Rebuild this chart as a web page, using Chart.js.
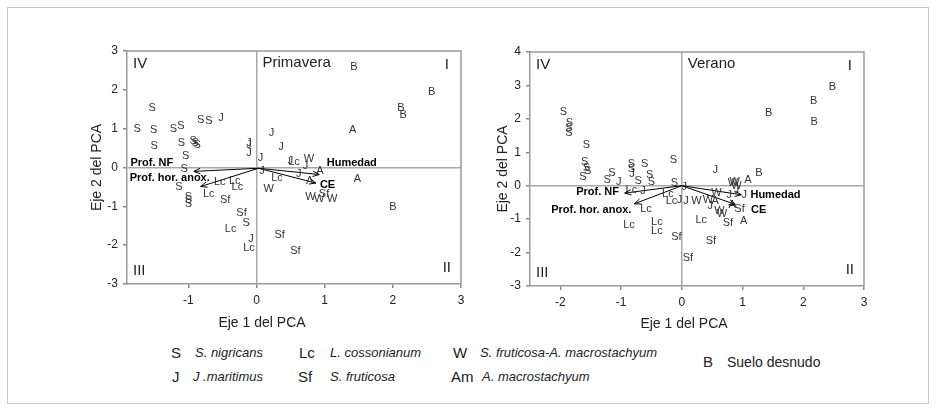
<!DOCTYPE html>
<html>
<head>
<meta charset="utf-8">
<script src="https://cdn.jsdelivr.net/npm/chart.js@4/dist/chart.umd.min.js"></script>
<style>
  body { margin: 0; background: #fff; overflow: hidden; width: 936px; height: 411px; position: relative;
         font-family: "Liberation Sans", Arial, Helvetica, sans-serif; color: #222; }
  #frame { position: absolute; left: 7px; top: 7px; width: 920px; height: 395px; border: 1px solid #c8c8c8; }
  #leftBox  { position: absolute; left: 0;     top: 0; width: 470px; height: 340px; }
  #rightBox { position: absolute; left: 470px; top: 0; width: 460px; height: 340px; }
  .lg { position: absolute; height: 18px; line-height: 18px; white-space: nowrap; }
  .sym { font-size: 15px; }
  .sp  { font-size: 13px; font-style: italic; }
</style>
</head>
<body>
<div id="frame"></div>
<div id="leftBox"><canvas id="primavera" width="470" height="340"></canvas></div>
<div id="rightBox"><canvas id="verano" width="460" height="340"></canvas></div>

<!-- legend -->
<div class="lg sym" style="left:171px;top:344px">S</div>
<div class="lg sp"  style="left:195px;top:344px">S. nigricans</div>
<div class="lg sym" style="left:299px;top:344px">Lc</div>
<div class="lg sp"  style="left:330px;top:344px">L. cossonianum</div>
<div class="lg sym" style="left:453px;top:344px">W</div>
<div class="lg sp"  style="left:480px;top:344px">S. fruticosa-A. macrostachyum</div>
<div class="lg sym" style="left:172px;top:368px">J</div>
<div class="lg sp"  style="left:193px;top:368px">J .maritimus</div>
<div class="lg sym" style="left:298px;top:368px">Sf</div>
<div class="lg sp"  style="left:330px;top:368px">S. fruticosa</div>
<div class="lg sym" style="left:451px;top:368px">Am</div>
<div class="lg sp"  style="left:482px;top:368px">A. macrostachyum</div>
<div class="lg sym" style="left:703px;top:353px">B</div>
<div class="lg" style="left:727px;top:353px;font-size:14px">Suelo desnudo</div>

<script>
// ---- tick labels ----
const primXTicks = [-1, 0, 1, 2, 3];
const primYTicks = [-3, -2, -1, 0, 1, 2, 3];
const verXTicks  = [-2, -1, 0, 1, 2, 3];
const verYTicks  = [-3, -2, -1, 0, 1, 2, 3, 4];

// ---- Primavera scores (Eje 1, Eje 2) ----
const primS  = [[-1.53,1.54],[-1.75,0.99],[-1.51,0.97],[-1.5,0.55],[-1.22,0.98],[-1.11,1.06],[-0.82,1.23],[-0.70,1.21],
                [-1.10,0.62],[-0.93,0.68],[-0.90,0.64],[-0.87,0.57],[-1.04,0.30],[-1.06,-0.05],[-1.14,-0.49],
                [-1.0,-0.75],[-1.0,-0.84],[-1.0,-0.94],[-0.15,-1.43]];
const primJ  = [[-0.52,1.28],[-0.11,0.63],[-0.11,0.59],[-0.11,0.38],[0.22,0.88],[0.36,0.54],[0.06,0.25],[0.08,-0.08],
                [0.50,0.16],[0.72,0.05],[0.62,-0.17],[-0.08,-1.84]];
const primLc = [[-0.70,-0.68],[-0.54,-0.38],[-0.32,-0.34],[-0.28,-0.51],[0.30,-0.27],[0.55,0.14],[-0.38,-1.58],[-0.11,-2.08]];
const primSf = [[-0.46,-0.84],[-0.22,-1.18],[0.34,-1.73],[0.57,-2.14],[0.99,-0.68]];
const primW  = [[0.18,-0.55],[0.77,0.22],[0.79,-0.75],[0.92,-0.81],[1.11,-0.82]];
const primA  = [[0.93,-0.08],[0.78,-0.35],[1.41,0.97],[1.48,-0.29]];
const primB  = [[1.43,2.58],[2.57,1.94],[2.12,1.54],[2.15,1.36],[2.0,-1.02]];

// ---- Verano scores ----
const verS  = [[-1.95,2.21],[-1.85,1.88],[-1.86,1.74],[-1.86,1.59],[-1.57,1.21],[-1.6,0.71],[-1.57,0.54],[-1.55,0.44],
               [-1.63,0.26],[-1.15,0.38],[-1.23,0.16],[-0.83,0.66],[-0.83,0.50],[-0.61,0.66],[-0.72,0.13],
               [-0.53,0.31],[-0.5,0.11],[-0.14,0.78],[-0.12,0.08]];
const verJ  = [[-1.04,0.11],[-0.82,0.36],[-0.64,-0.17],[0.04,-0.04],[0.07,-0.45],[-0.04,-0.44],[0.55,0.46],
               [0.47,-0.62],[0.78,-0.27],[1.03,-0.28],[0.9,-0.14]];
const verLc = [[-0.83,-0.12],[-0.23,-0.26],[-0.17,-0.46],[-0.59,-0.69],[-0.87,-1.16],[-0.41,-1.09],[-0.41,-1.34],[0.32,-1.03]];
const verSf = [[-0.09,-1.52],[0.10,-2.16],[0.48,-1.64],[0.76,-1.10],[0.95,-0.70]];
const verW  = [[0.24,-0.46],[0.43,-0.42],[0.57,-0.22],[0.62,-0.76],[0.66,-0.84],[0.84,0.08],[0.90,0.0],[0.87,0.12]];
const verA  = [[0.55,-0.47],[0.83,-0.57],[1.02,-1.04],[1.09,0.16]];
const verB  = [[1.27,0.38],[1.43,2.18],[2.17,2.53],[2.48,2.94],[2.18,1.91]];

// ---- environmental vectors: name, origin, end, label anchor ----
const vecNames   = ['Prof. NF', 'Prof. hor. anox.', 'Humedad', 'CE'];
const primOrigin = [0.03, -0.02];
const primVecEnd = [[-0.92,-0.10],[-0.82,-0.49],[0.92,-0.18],[0.87,-0.40]];
const primVecLab = [[-1.85,0.11],[-1.86,-0.27],[1.03,0.12],[0.93,-0.46]];
const verOrigin  = [0, 0];
const verVecEnd  = [[-0.94,-0.22],[-0.78,-0.54],[0.98,-0.27],[0.88,-0.56]];
const verVecLab  = [[-1.74,-0.19],[-2.15,-0.72],[1.13,-0.29],[1.14,-0.74]];

const FONT = '"Liberation Sans", Arial, Helvetica, sans-serif';

const toPts = arr => arr.map(([x, y]) => ({ x, y }));

// draws letters, arrowheads, vector labels, frame and annotations
const decorPlugin = {
  id: 'decor',
  beforeDatasetsDraw(chart, args, opts) {
    const { ctx, chartArea: a } = chart;
    ctx.save();
    ctx.strokeStyle = '#9a9a9a';
    ctx.lineWidth = 1.5;
    ctx.beginPath();
    ctx.moveTo(a.left, a.top); ctx.lineTo(a.right, a.top); ctx.lineTo(a.right, a.bottom);
    ctx.stroke();
    ctx.restore();
  },
  afterDatasetsDraw(chart, args, opts) {
    const { ctx, chartArea: a, scales } = chart;
    ctx.save();
    chart.data.datasets.forEach((ds, i) => {
      const meta = chart.getDatasetMeta(i);
      if (ds.letter) {
        ctx.font = '11px ' + FONT;
        ctx.fillStyle = '#333';
        ctx.textAlign = 'center';
        ctx.textBaseline = 'middle';
        meta.data.forEach(pt => ctx.fillText(ds.letter, pt.x, pt.y));
      }
      if (ds.arrow) {
        const p0 = meta.data[0], p1 = meta.data[1];
        const ang = Math.atan2(p1.y - p0.y, p1.x - p0.x);
        const L = 7, w = 0.4;
        ctx.strokeStyle = '#000';
        ctx.lineWidth = 1;
        ctx.beginPath();
        ctx.moveTo(p1.x - L * Math.cos(ang - w), p1.y - L * Math.sin(ang - w));
        ctx.lineTo(p1.x, p1.y);
        ctx.lineTo(p1.x - L * Math.cos(ang + w), p1.y - L * Math.sin(ang + w));
        ctx.stroke();
        ctx.font = 'bold 11px ' + FONT;
        ctx.fillStyle = '#000';
        ctx.textAlign = 'left';
        ctx.textBaseline = 'middle';
        ctx.fillText(ds.label, scales.x.getPixelForValue(ds.labelAt[0]), scales.y.getPixelForValue(ds.labelAt[1]));
      }
    });

    // quadrant labels and panel name
    ctx.fillStyle = '#222';
    ctx.font = '15px ' + FONT;
    ctx.textBaseline = 'middle';
    ctx.textAlign = 'left';
    ctx.fillText('IV', a.left + 6, a.top + 13);
    ctx.fillText('III', a.left + 6, a.bottom - 13);
    ctx.fillText(opts.panel, scales.x.getPixelForValue(0) + 6, a.top + 12);
    ctx.textAlign = 'right';
    ctx.fillText('I', a.right - 12, a.top + 14);
    ctx.fillText('II', a.right - 10, a.bottom - 16);

    // axis titles
    ctx.font = '14px ' + FONT;
    ctx.textAlign = 'center';
    ctx.fillText('Eje 1 del PCA', opts.xTitleX, opts.xTitleY);
    ctx.translate(opts.yTitleX, (a.top + a.bottom) / 2);
    ctx.rotate(-Math.PI / 2);
    ctx.fillText('Eje 2 del PCA', 0, 0);
    ctx.restore();
  }
};

function makeChart(id, cfg) {
  const letterSets = [
    ['S', cfg.S], ['J', cfg.J], ['Lc', cfg.Lc], ['Sf', cfg.Sf], ['W', cfg.W], ['A', cfg.A], ['B', cfg.B]
  ].map(([letter, arr]) => ({
    label: letter, letter, data: toPts(arr), pointRadius: 0, pointHoverRadius: 0, showLine: false
  }));
  const arrowSets = vecNames.map((name, i) => ({
    label: name,
    arrow: true,
    labelAt: cfg.vecLab[i],
    data: toPts([cfg.origin, cfg.vecEnd[i]]),
    showLine: true,
    borderColor: '#000',
    borderWidth: 1,
    pointRadius: 0,
    pointHoverRadius: 0
  }));

  const axisCommon = (ticks, min, max) => ({
    type: 'linear', min, max,
    afterBuildTicks: s => { s.ticks = ticks.map(v => ({ value: v })); },
    grid: {
      drawOnChartArea: true,
      color: c => (c.tick && c.tick.value === 0 ? '#a8a8a8' : 'rgba(0,0,0,0)'),
      lineWidth: 1.5,
      tickColor: '#888',
      tickLength: 4
    },
    border: { display: true, color: '#9a9a9a', width: 1.5 },
    ticks: { color: '#222', font: { family: FONT, size: 12 }, padding: 5 }
  });

  return new Chart(document.getElementById(id), {
    type: 'scatter',
    data: { datasets: [...letterSets, ...arrowSets] },
    plugins: [decorPlugin],
    options: {
      responsive: false,
      animation: false,
      events: [],
      layout: { padding: { top: cfg.padTop, right: cfg.padRight, left: 0, bottom: 0 } },
      plugins: {
        legend: { display: false },
        tooltip: { enabled: false },
        decor: { panel: cfg.panel, xTitleX: cfg.xTitleX, xTitleY: cfg.xTitleY, yTitleX: cfg.yTitleX }
      },
      scales: {
        x: { ...axisCommon(cfg.xTicks, cfg.xMin, cfg.xMax),
             afterFit: s => { s.height = cfg.xAxisH; } },
        y: { ...axisCommon(cfg.yTicks, cfg.yMin, cfg.yMax),
             afterFit: s => { s.width = cfg.yAxisW; } }
      }
    }
  });
}

makeChart('primavera', {
  panel: 'Primavera',
  S: primS, J: primJ, Lc: primLc, Sf: primSf, W: primW, A: primA, B: primB,
  origin: primOrigin, vecEnd: primVecEnd, vecLab: primVecLab,
  xTicks: primXTicks, yTicks: primYTicks,
  xMin: -1.9, xMax: 3, yMin: -3, yMax: 3,
  padTop: 51, padRight: 9, yAxisW: 127, xAxisH: 56,
  xTitleX: 262, xTitleY: 323, yTitleX: 97
});

makeChart('verano', {
  panel: 'Verano',
  S: verS, J: verJ, Lc: verLc, Sf: verSf, W: verW, A: verA, B: verB,
  origin: verOrigin, vecEnd: verVecEnd, vecLab: verVecLab,
  xTicks: verXTicks, yTicks: verYTicks,
  xMin: -2.5, xMax: 3, yMin: -3, yMax: 4,
  padTop: 52, padRight: 66, yAxisW: 60, xAxisH: 54,
  xTitleX: 214, xTitleY: 324, yTitleX: 33
});
</script>
</body>
</html>
